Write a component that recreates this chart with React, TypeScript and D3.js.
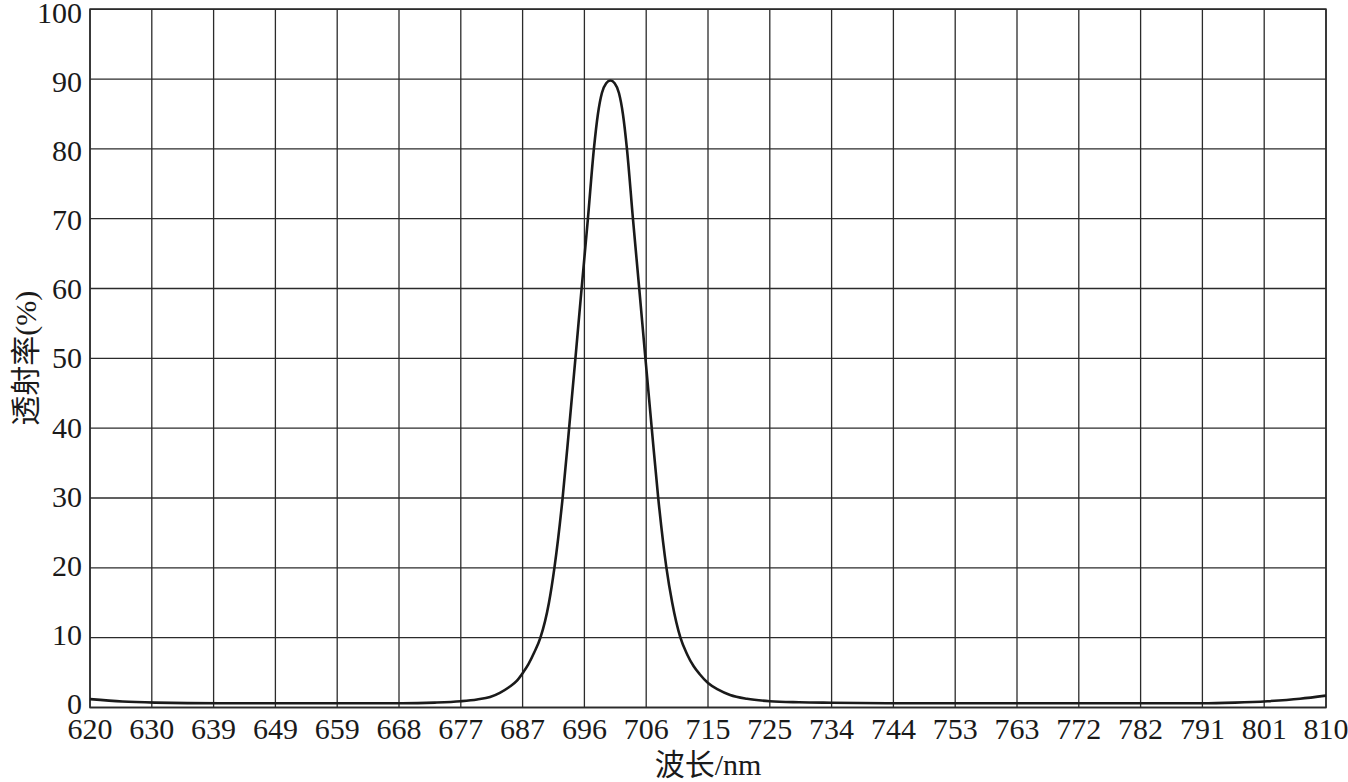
import React from "react";
import * as d3 from "d3";

// Wavelength (nm) and transmittance (%)
const wavelengths = [
  620, 625, 630, 640, 650, 660, 668, 673, 677, 679.5, 681.5, 683, 684.4, 685.6,
  686.5, 687.4, 688.3, 689.24, 690.55, 691.39, 692.65, 693.65, 694.62, 695.57,
  696.54, 697.46, 698.08, 698.69, 699.35, 700, 700.65, 701.31, 701.92, 702.54,
  703.46, 704.43, 705.38, 706.35, 707.35, 708.61, 709.5, 710.76, 711.8, 712.8,
  713.7, 715, 716.5, 718.4, 721, 724.5, 729, 734, 744, 760, 780, 791, 796, 801,
  806, 810,
];
const transmittance = [
  1.2, 0.85, 0.7, 0.6, 0.6, 0.6, 0.6, 0.7, 0.9, 1.15, 1.5, 2.1, 2.9, 3.8,
  4.9, 6.2, 7.9, 10, 15, 20, 30, 40, 50, 60,
  70, 80, 85, 88, 89.4, 89.8, 89.4, 88, 85, 80,
  70, 60, 50, 40, 30, 20, 15, 10, 7.6, 5.9,
  4.8, 3.5, 2.6, 1.8, 1.25, 0.9, 0.75, 0.68, 0.6, 0.6, 0.6, 0.6, 0.7, 0.9,
  1.25, 1.7,
];

const xTickLabels = [
  "620", "630", "639", "649", "659", "668", "677", "687", "696", "706", "715",
  "725", "734", "744", "753", "763", "772", "782", "791", "801", "810",
];
const yTicks = [0, 10, 20, 30, 40, 50, 60, 70, 80, 90, 100];

const xDomain = [620, 810];
const yDomain = [0, 100];

const W = 1348;
const H = 782;
const left = 90;
const right = 1326;
const top = 9.2;
const bottom = 707.5;

const serif = '"Liberation Serif", "Times New Roman", "Noto Sans CJK SC", serif';

export default function App() {
  const x = d3.scaleLinear().domain(xDomain).range([left, right]);
  const y = d3.scaleLinear().domain(yDomain).range([bottom, top]);
  // label centres in the reference sit on a slightly tighter spacing
  const yLabel = d3.scaleLinear().domain(yDomain).range([704, 12.3]);
  const step = (xDomain[1] - xDomain[0]) / (xTickLabels.length - 1);
  const xTicks = xTickLabels.map((l, i) => ({ v: xDomain[0] + i * step, l }));

  const points = wavelengths.map((w, i) => [w, transmittance[i]] as [number, number]);
  const line = d3
    .line<[number, number]>()
    .x((d) => x(d[0]))
    .y((d) => y(d[1]))
    .curve(d3.curveMonotoneX);

  const grid = "#2b2b2b";

  return (
    <svg
      width={W}
      height={H}
      style={{ position: "absolute", left: 0, top: 0, background: "#fff" }}
    >
      <rect x={0} y={0} width={W} height={H} fill="#fff" />
      {xTicks.map((t, i) => (
        <line
          key={"vx" + i}
          x1={x(t.v)}
          x2={x(t.v)}
          y1={top}
          y2={bottom}
          stroke={grid}
          strokeWidth={1.3}
        />
      ))}
      {yTicks.map((t) => (
        <line
          key={"hy" + t}
          x1={left}
          x2={right}
          y1={y(t)}
          y2={y(t)}
          stroke={grid}
          strokeWidth={1.3}
        />
      ))}
      <rect
        x={left}
        y={top}
        width={right - left}
        height={bottom - top}
        fill="none"
        stroke={grid}
        strokeWidth={1.6}
      />
      <path
        d={line(points) || ""}
        fill="none"
        stroke="#1a1a1a"
        strokeWidth={2.6}
        strokeLinejoin="round"
      />
      {yTicks.map((t) => (
        <text
          key={"yl" + t}
          x={left - 8}
          y={yLabel(t)}
          dy="0.34em"
          textAnchor="end"
          fontFamily={serif}
          fontSize={30}
          fill="#1a1a1a"
        >
          {t}
        </text>
      ))}
      {xTicks.map((t, i) => (
        <text
          key={"xl" + i}
          x={x(t.v)}
          y={739}
          textAnchor="middle"
          fontFamily={serif}
          fontSize={30}
          fill="#1a1a1a"
        >
          {t.l}
        </text>
      ))}
      <text
        x={(left + right) / 2}
        y={775}
        textAnchor="middle"
        fontFamily={serif}
        fontSize={30}
        fill="#1a1a1a"
      >
        波长/nm
      </text>
      <text
        transform={`translate(36,${(top + bottom) / 2}) rotate(-90)`}
        textAnchor="middle"
        fontFamily={serif}
        fontSize={30}
        fill="#1a1a1a"
      >
        透射率(%)
      </text>
    </svg>
  );
}
